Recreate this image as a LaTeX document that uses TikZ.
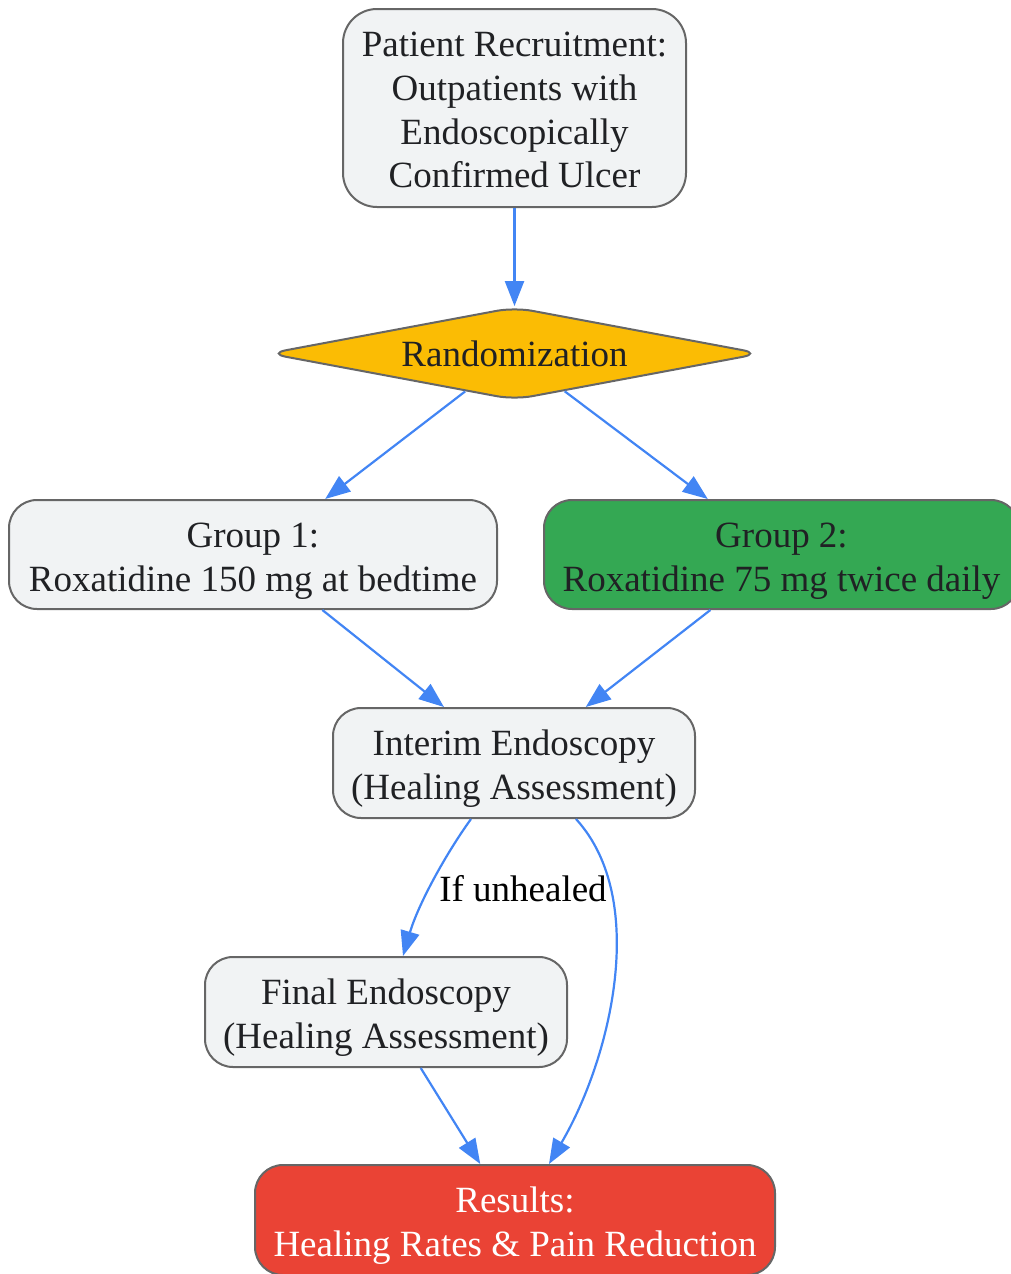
\documentclass[tikz,border=0pt]{standalone}
\usepackage{fontspec}
\setmainfont{Liberation Serif}
\usetikzlibrary{shapes.geometric,arrows.meta}
\definecolor{boxfill}{HTML}{F1F3F4}
\definecolor{boxline}{HTML}{666666}
\definecolor{txt}{HTML}{202124}
\definecolor{edgeblue}{HTML}{4285F4}
\definecolor{ryellow}{HTML}{FBBC04}
\definecolor{ggreen}{HTML}{34A853}
\definecolor{rred}{HTML}{EA4335}
\newcommand{\lowtext}[2]{\raisebox{-#1}[\height][\depth]{\begin{tabular}{@{}c@{}}#2\end{tabular}}}
\begin{document}
\begin{tikzpicture}[x=1pt,y=-1pt,
  box/.style={draw=boxline, line width=2pt, fill=boxfill, rounded corners=28pt,
    inner sep=0pt, text=txt,
    font=\fontsize{37}{43.8}\selectfont},
  conn/.style={draw=edgeblue, line width=2.2pt, -{Triangle[length=25pt,width=19pt]}},
  lbl/.style={font=\fontsize{37}{43.8}\selectfont, text=black, inner sep=0pt}]
\useasboundingbox (0,0) rectangle (1011,1274);
\node[box, rounded corners=34pt, minimum width=343pt, minimum height=198pt] (recruit) at (514.5,108)
  {\lowtext{5.5pt}{Patient Recruitment:\\Outpatients with\\Endoscopically\\Confirmed Ulcer}};
\node[diamond, aspect=5.31, draw=boxline, line width=2pt, fill=ryellow, rounded corners=18pt,
  inner sep=0pt, minimum width=493pt, minimum height=92.8pt, text=txt,
  font=\fontsize{37}{43.8}\selectfont] (rand) at (514.5,353.5) {Randomization};
\node[box, minimum width=488pt, minimum height=109pt] (g1) at (253,554.5)
  {\lowtext{6pt}{Group 1:\\Roxatidine 150 mg at bedtime}};
\node[box, fill=ggreen, minimum width=475pt, minimum height=109pt] (g2) at (781.5,554.5)
  {\lowtext{6pt}{Group 2:\\Roxatidine 75 mg twice daily}};
\node[box, minimum width=362pt, minimum height=110pt] (interim) at (514,763)
  {\lowtext{6pt}{Interim Endoscopy\\(Healing Assessment)}};
\node[box, minimum width=362pt, minimum height=110pt] (final) at (386,1012)
  {\lowtext{6pt}{Final Endoscopy\\(Healing Assessment)}};
\node[box, fill=rred, text=white, minimum width=520pt, minimum height=110pt] (results) at (515,1220)
  {\lowtext{6pt}{Results:\\Healing Rates \& Pain Reduction}};
\draw[conn] (recruit) -- (rand);
\draw[conn] (rand) -- (g1);
\draw[conn] (rand) -- (g2);
\draw[conn] (g1) -- (interim);
\draw[conn] (g2) -- (interim);
\draw[conn] ([xshift=-43pt]interim.south) .. controls (445,855) and (418,905) .. ([xshift=17pt]final.north);
\node[lbl] (unhealed) at (523,889) {If unhealed};
\draw[conn] ([xshift=62pt]interim.south) .. controls (650,900) and (610,1060) .. ([xshift=34pt]results.north);
\draw[conn] (final) -- (results);
\end{tikzpicture}
\end{document}
